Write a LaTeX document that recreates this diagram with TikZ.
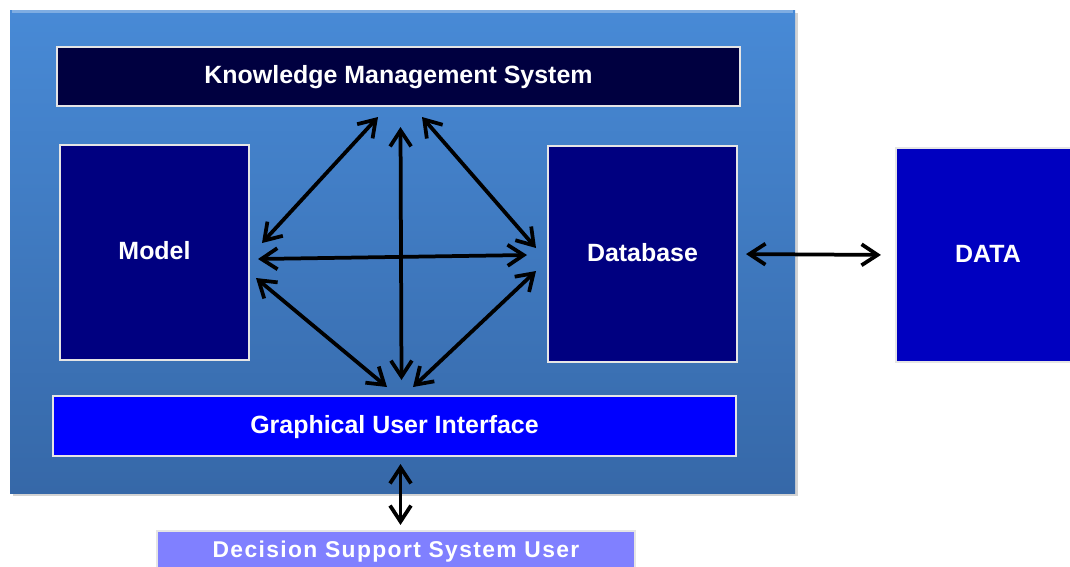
\documentclass[tikz,border=0pt]{standalone}
\usepackage{fontspec}
\setmainfont{Liberation Sans}
\newfontfamily\spacedfont{Liberation Sans}[LetterSpace=6]
\usepackage{tikz}
\usetikzlibrary{arrows.meta}
\usetikzlibrary{shadows}
\usetikzlibrary{positioning}
\newlength\px
\setlength\px{0.02cm}
\definecolor{panelTop}{RGB}{72,138,214}
\definecolor{panelBot}{RGB}{54,104,168}
\definecolor{kmsFill}{RGB}{0,0,64}
\definecolor{navyFill}{RGB}{0,0,128}
\definecolor{dataFill}{RGB}{0,0,192}
\definecolor{guiFill}{RGB}{0,0,255}
\definecolor{userFill}{RGB}{128,128,255}
\tikzset{
  box/.style={draw=white!80!gray,line width=1.2pt,text=white,inner sep=0pt,
    text height=0.8em,text depth=0pt,
    font=\bfseries\fontsize{14.2}{16}\selectfont},
  link/.style={{Straight Barb[length=0.32cm,width=0.42cm]}-{Straight Barb[length=0.32cm,width=0.42cm]},
    line width=0.075cm,black}
}
\begin{document}
\begin{tikzpicture}[x=0.02cm,y=-0.02cm]
  \useasboundingbox (0,0) rectangle (1070,566);
  \fill[top color=panelTop,bottom color=panelBot,
    drop shadow={opacity=0.35,shadow xshift=3\px,shadow yshift=-3\px}] (10,10) rectangle (795,493);
  \draw[panelTop!70!white,line width=3\px] (12,11.5) -- (793,11.5);

  \node[box,fill=kmsFill,minimum width=683\px,minimum height=59\px] (kms) at (398.5,76.5) {Knowledge Management System};
  \node[box,fill=navyFill,minimum width=189\px,minimum height=215\px] (model) at (154.5,252.5) {Model};
  \node[box,fill=navyFill,minimum width=189\px,minimum height=216\px] (db) at (642.5,254) {Database};
  \node[box,fill=dataFill,minimum width=184\px,minimum height=214\px] (data) at (988,255) {DATA};
  \node[box,fill=guiFill,minimum width=683\px,minimum height=60\px] (gui) at (394.5,426) {Graphical User Interface};
  \node[box,fill=userFill,minimum width=478\px,minimum height=38\px,
    font=\spacedfont\bfseries\fontsize{13}{15}\selectfont] (user) at (396,550) {Decision Support System User};

  \coordinate (kmsL) at (378,117);
  \coordinate (kmsM) at (400.5,127);
  \coordinate (kmsR) at (422,117);
  \coordinate (modT) at (262,243);
  \coordinate (modM) at (258,259);
  \coordinate (modB) at (256,278);
  \coordinate (dbT) at (536,248);
  \coordinate (dbM) at (527,255);
  \coordinate (dbB) at (536,271);
  \coordinate (guiL) at (387,387);
  \coordinate (guiM) at (401.5,380);
  \coordinate (guiR) at (413,387);

  \draw[link] (kmsL) -- (modT);
  \draw[link] (kmsM) -- (guiM);
  \draw[link] (kmsR) -- (dbT);
  \draw[link] (modM) -- (dbM);
  \draw[link] (modB) -- (guiL);
  \draw[link] (dbB) -- (guiR);
  \draw[link,shorten <=8\px,shorten >=14\px] (db.east) -- (data.west);
  \draw[link,shorten <=7\px,shorten >=5\px] (gui.south -| kmsM) -- (user.north -| kmsM);
\end{tikzpicture}
\end{document}
